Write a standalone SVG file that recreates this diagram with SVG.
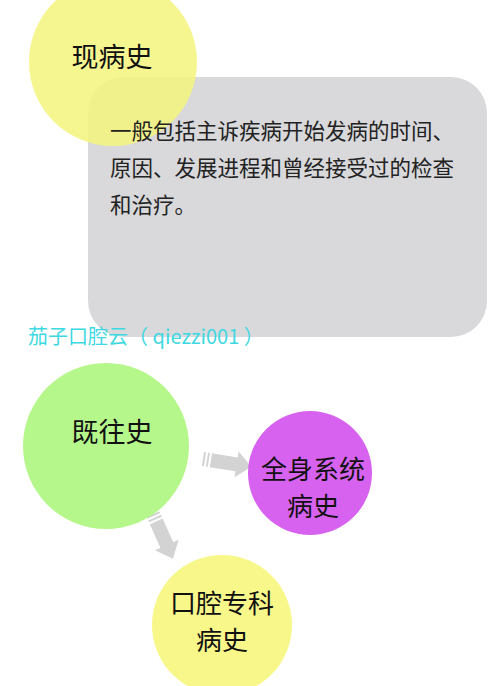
<svg xmlns="http://www.w3.org/2000/svg" xmlns:xlink="http://www.w3.org/1999/xlink" width="500" height="686" viewBox="0 0 500 686">
<style>
.lbl{font-family:"Noto Sans CJK SC","Noto Sans",sans-serif;font-size:27px;fill:#111;text-anchor:middle}
.lbl2{font-family:"Noto Sans CJK SC","Noto Sans",sans-serif;font-size:26px;fill:#111;text-anchor:middle}
.body{font-family:"Noto Sans CJK SC","Noto Sans",sans-serif;font-size:21.5px;fill:#222}
.wm{font-family:"Noto Sans CJK SC","Noto Sans",sans-serif;font-size:20px;fill:#3ed8e2}
.arr{fill:#d3d3d3}
</style>
<defs>
<g id="arrow">
<rect x="0" y="-7" width="2" height="14" class="arr"/>
<rect x="4" y="-7" width="2" height="14" class="arr"/>
<polygon class="arr" points="8,-7 34,-7 34,-13 49,0 34,13 34,7 8,7"/>
</g>
</defs>
<rect width="500" height="686" fill="#ffffff"/>
<g id="desc">
<rect x="88" y="77" width="399" height="260" rx="36" fill="#d9d9db"/>
</g>
<g id="node-xianbingshi">
<circle cx="113" cy="62" r="84" fill="#f5f57e" fill-opacity="0.85"/>
<text class="lbl" x="112" y="67">现病史</text>
</g>
<g id="desc-text">
<text class="body" x="110" y="139">一般包括主诉疾病开始发病的时间、</text>
<text class="body" x="110" y="176">原因、发展进程和曾经接受过的检查</text>
<text class="body" x="110" y="213">和治疗。</text>
</g>
<text class="wm" x="28" y="344">茄子口腔云（ qiezzi001 ）</text>
<g id="connectors">
<use xlink:href="#arrow" transform="translate(203,459) rotate(9)"/>
<use xlink:href="#arrow" transform="translate(153,514) rotate(66)"/>
</g>
<g id="node-jiwangshi">
<circle cx="106" cy="446" r="83" fill="#b6f78c"/>
<text class="lbl" x="112" y="442">既往史</text>
</g>
<g id="node-quanshen">
<circle cx="310" cy="473" r="62" fill="#d862f0"/>
<text class="lbl2" x="313" y="479">全身系统</text>
<text class="lbl2" x="313" y="516">病史</text>
</g>
<g id="node-kouqiang">
<circle cx="222" cy="625" r="70" fill="#f7f78a"/>
<text class="lbl2" x="222" y="613">口腔专科</text>
<text class="lbl2" x="222" y="650">病史</text>
</g>
</svg>
